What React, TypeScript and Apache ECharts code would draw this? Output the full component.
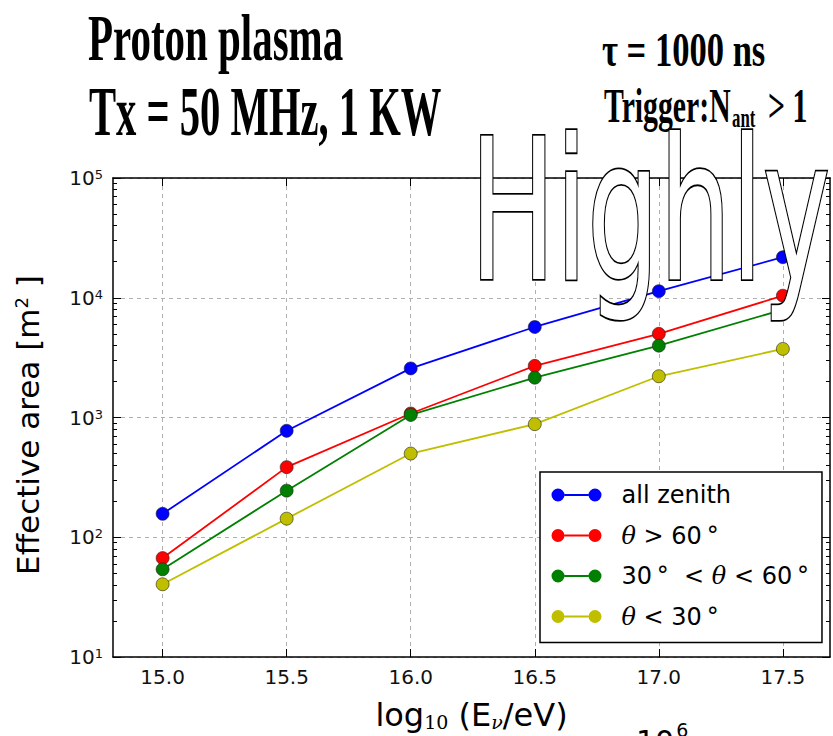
import React, { useEffect, useRef } from "react";
import * as echarts from "echarts";

// ---- data ----
const energies = [15.0, 15.5, 16.0, 16.5, 17.0, 17.5];
const allZenith = [157, 775, 2570, 5700, 11350, 21800];
const thetaAbove60 = [67, 385, 1080, 2700, 5000, 10400];
const theta30to60 = [54, 245, 1050, 2150, 3980, 7950];
const thetaBelow30 = [40.5, 143, 500, 880, 2210, 3740];

const seriesNames = ["all zenith", "θ > 60°", "30° < θ < 60°", "θ < 30°"];
const seriesColors = ["#0000ff", "#ff0000", "#008000", "#bfbf00"];
const legendLabels = [
  "all zenith",
  "{t|θ} > 60\u2009°",
  "30\u2009°  < {t|θ} < 60\u2009°",
  "{t|θ} < 30\u2009°",
];

const xTicks = [15.0, 15.5, 16.0, 16.5, 17.0, 17.5];
const xMin = 14.8;
const xMax = 17.69;
const yMin = 10;
const yMax = 100000;
const yMinorTicks = [
  20, 30, 40, 50, 60, 70, 80, 90,
  200, 300, 400, 500, 600, 700, 800, 900,
  2000, 3000, 4000, 5000, 6000, 7000, 8000, 9000,
  20000, 30000, 40000, 50000, 60000, 70000, 80000, 90000,
];

const allSeries = [allZenith, thetaAbove60, theta30to60, thetaBelow30];

const legendIcon =
  "path://M0,7A6.5,6.5,0,1,0,13,7A6.5,6.5,0,1,0,0,7Z M37,7A6.5,6.5,0,1,0,50,7A6.5,6.5,0,1,0,37,7Z M13,6.1L37,6.1L37,7.9L13,7.9Z";

const gridDash = { type: [4, 4] as any, color: "#b0b0b0", width: 1 };
const frameLine = { color: "#000", width: 1.5 };

export default function App() {
  const ref = useRef<HTMLDivElement>(null);

  useEffect(() => {
    if (!ref.current) return;
    const chart = echarts.init(ref.current, null, { renderer: "svg" });

    const minorLog = yMinorTicks.map((v) => Math.log10(v));

    const option: any = {
      animation: false,
      backgroundColor: "#fff",
      grid: {
        left: 113,
        top: 178,
        right: 3,
        bottom: 79,
        containLabel: false,
        outerBoundsMode: "none",
      },
      xAxis: [
        {
          type: "value",
          position: "bottom",
          min: xMin,
          max: xMax,
          axisLine: { show: true, onZero: false, lineStyle: frameLine },
          axisTick: { show: true, inside: true, length: 8, customValues: xTicks, lineStyle: { color: "#000", width: 1 } },
          axisLabel: {
            show: true,
            customValues: xTicks,
            formatter: (v: number) => v.toFixed(1),
            fontSize: 20,
            fontFamily: "DejaVu Sans",
            color: "#111",
            margin: 10,
          },
          splitLine: { show: true, lineStyle: gridDash },
          name: "{a|log}{s|10}{a| (E}{v|ν}{a|/eV)}",
          nameLocation: "middle",
          nameGap: 42,
          nameTextStyle: {
            fontSize: 32,
            fontFamily: "DejaVu Sans",
            color: "#000",
            rich: {
              a: { fontSize: 32, fontFamily: "DejaVu Sans", color: "#000" },
              s: { fontSize: 19, fontFamily: "DejaVu Serif", color: "#000", verticalAlign: "bottom" },
              v: { fontSize: 19, fontFamily: "DejaVu Serif", fontStyle: "italic", color: "#000", verticalAlign: "bottom" },
            },
          },
        },
        {
          type: "value",
          position: "top",
          min: xMin,
          max: xMax,
          axisLine: { show: true, onZero: false, lineStyle: frameLine },
          axisTick: { show: true, inside: true, length: 8, customValues: xTicks, lineStyle: { color: "#000", width: 1 } },
          axisLabel: { show: false },
          splitLine: { show: false },
        },
      ],
      yAxis: [
        {
          type: "log",
          logBase: 10,
          position: "left",
          min: yMin,
          max: yMax,
          axisLine: { show: true, onZero: false, lineStyle: frameLine },
          axisTick: { show: true, inside: true, length: 8, lineStyle: { color: "#000", width: 1 } },
          axisLabel: {
            show: true,
            margin: 10,
            formatter: (v: number) => `{b|10}{s|${Math.round(Math.log10(v))}}`,
            rich: {
              b: { fontSize: 20, fontFamily: "DejaVu Sans", color: "#111" },
              s: { fontSize: 13, fontFamily: "DejaVu Sans", color: "#111", verticalAlign: "top" },
            },
          },
          splitLine: { show: true, lineStyle: gridDash },
        },
        {
          type: "value",
          position: "left",
          min: 1,
          max: 5,
          axisLine: { show: false, onZero: false },
          axisTick: { show: true, inside: true, length: 4, customValues: minorLog, lineStyle: { color: "#000", width: 1 } },
          axisLabel: { show: false },
          splitLine: { show: false },
        },
        {
          type: "log",
          logBase: 10,
          position: "right",
          min: yMin,
          max: yMax,
          axisLine: { show: true, onZero: false, lineStyle: frameLine },
          axisTick: { show: true, inside: true, length: 8, lineStyle: { color: "#000", width: 1 } },
          axisLabel: { show: false },
          splitLine: { show: false },
        },
        {
          type: "value",
          position: "right",
          min: 1,
          max: 5,
          axisLine: { show: false, onZero: false },
          axisTick: { show: true, inside: true, length: 4, customValues: minorLog, lineStyle: { color: "#000", width: 1 } },
          axisLabel: { show: false },
          splitLine: { show: false },
        },
      ],
      legend: {
        orient: "vertical",
        left: 540,
        top: 472,
        width: 280,
        padding: [9, 13, 12, 11.5],
        itemGap: 12.5,
        itemWidth: 50,
        itemHeight: 14,
        icon: legendIcon,
        backgroundColor: "#fff",
        borderColor: "#000",
        borderWidth: 1.5,
        borderRadius: 0,
        itemStyle: { borderWidth: 0 },
        data: seriesNames,
        formatter: (name: string) => legendLabels[seriesNames.indexOf(name)],
        textStyle: {
          fontSize: 24,
          fontFamily: "DejaVu Sans",
          color: "#000",
          lineHeight: 28,
          padding: [0, 0, 0, 15],
          rich: {
            t: { fontSize: 24, fontFamily: "DejaVu Serif", fontStyle: "italic", color: "#000", lineHeight: 28 },
          },
        },
      },
      series: allSeries.map((vals, i) => ({
        name: seriesNames[i],
        type: "line",
        xAxisIndex: 0,
        yAxisIndex: 0,
        data: energies.map((e, j) => [e, vals[j]]),
        symbol: "circle",
        symbolSize: 13,
        showSymbol: true,
        itemStyle: { color: seriesColors[i], borderColor: "#222", borderWidth: 0.6 },
        lineStyle: { color: seriesColors[i], width: 1.8 },
        z: 3,
      })),
      graphic: [
        {
          type: "text",
          x: 88,
          y: 38,
          scaleX: 0.63,
          z: 50,
          style: {
            text: "Proton plasma",
            fontSize: 65,
            fontWeight: "bold",
            fontFamily: "Liberation Serif",
            fill: "#000",
            align: "left",
            verticalAlign: "middle",
          },
        },
        {
          type: "text",
          x: 89,
          y: 111,
          scaleX: 0.58,
          z: 50,
          style: {
            text: "Tx = 50 MHz, 1 KW",
            fontSize: 70,
            fontWeight: "bold",
            fontFamily: "Liberation Serif",
            fill: "#000",
            align: "left",
            verticalAlign: "middle",
          },
        },
        {
          type: "text",
          x: 602,
          y: 49.5,
          scaleX: 0.72,
          z: 50,
          style: {
            text: "τ = 1000 ns",
            fontSize: 48,
            fontWeight: "bold",
            fontFamily: "Liberation Serif",
            fill: "#000",
            align: "left",
            verticalAlign: "middle",
          },
        },
        {
          type: "text",
          x: 604,
          y: 105.5,
          scaleX: 0.62,
          z: 50,
          style: {
            text: "Trigger:N",
            fontSize: 48,
            fontWeight: "bold",
            fontFamily: "Liberation Serif",
            fill: "#000",
            align: "left",
            verticalAlign: "middle",
          },
        },
        {
          type: "text",
          x: 732,
          y: 117,
          scaleX: 0.6,
          z: 50,
          style: {
            text: "ant",
            fontSize: 28,
            fontWeight: "bold",
            fontFamily: "Liberation Serif",
            fill: "#000",
            align: "left",
            verticalAlign: "middle",
          },
        },
        {
          type: "text",
          x: 768,
          y: 105.5,
          scaleX: 0.62,
          z: 50,
          style: {
            text: "> 1",
            fontSize: 48,
            fontWeight: "bold",
            fontFamily: "Liberation Serif",
            fill: "#000",
            align: "left",
            verticalAlign: "middle",
          },
        },
        {
          type: "text",
          x: 28,
          y: 425,
          rotation: Math.PI / 2,
          z: 50,
          style: {
            text: "Effective area [m{s|2} ]",
            fontSize: 31,
            fontFamily: "DejaVu Sans",
            fill: "#000",
            align: "center",
            verticalAlign: "middle",
            rich: {
              s: { fontSize: 18, fontFamily: "DejaVu Sans", fill: "#000", verticalAlign: "top" },
            },
          },
        },
        {
          type: "text",
          x: 636,
          y: 720,
          z: 50,
          style: {
            text: "{b|10}{s|6}",
            fontSize: 30,
            fontFamily: "DejaVu Sans",
            fill: "#000",
            align: "left",
            verticalAlign: "top",
            rich: {
              b: { fontSize: 30, fontFamily: "DejaVu Sans", fill: "#000", verticalAlign: "bottom", lineHeight: 36 },
              s: { fontSize: 19, fontFamily: "DejaVu Sans", fill: "#000", verticalAlign: "top", lineHeight: 19, padding: [0, 0, 0, 2] },
            },
          },
        },
        {
          type: "text",
          x: 470,
          y: 211,
          scaleX: 0.58,
          z: 100,
          style: {
            text: "Highly",
            fontSize: 196,
            fontFamily: "DejaVu Sans",
            fill: "#fff",
            stroke: "#000",
            lineWidth: 3.6,
            align: "left",
            verticalAlign: "middle",
          },
        },
      ],
    };

    chart.setOption(option);
    return () => chart.dispose();
  }, []);

  return (
    <div
      ref={ref}
      style={{ position: "absolute", left: 0, top: 0, width: 833, height: 736, background: "#fff" }}
    />
  );
}
